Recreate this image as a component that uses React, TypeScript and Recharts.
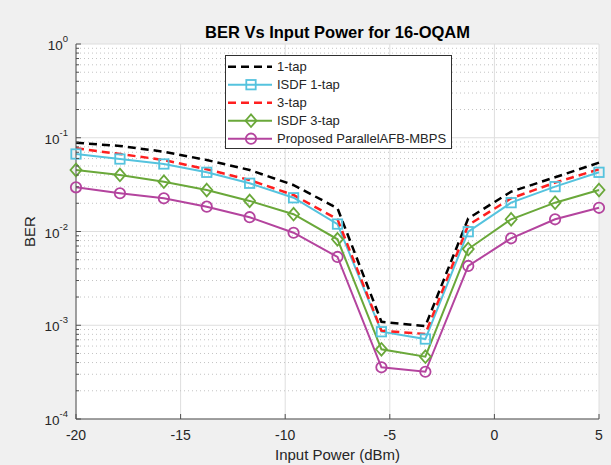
import React from 'react';
import { LineChart, Line, XAxis, YAxis, CartesianGrid, ReferenceLine, Legend, Label } from 'recharts';

// ---- data ----
const xValues = [-20, -17.9, -15.8, -13.75, -11.7, -9.6, -7.5, -5.4, -3.3, -1.25, 0.8, 2.9, 5];
const tap1 = [0.0885, 0.0817, 0.071, 0.0579, 0.0453, 0.0313, 0.0177, 0.00109, 0.00098, 0.0138, 0.0266, 0.0379, 0.0542];
const isdf1 = [0.0671, 0.0593, 0.0525, 0.0428, 0.0327, 0.0229, 0.012, 0.000853, 0.000713, 0.00995, 0.0203, 0.0301, 0.0428];
const tap3 = [0.0772, 0.0671, 0.0579, 0.0461, 0.0354, 0.0245, 0.0135, 0.000875, 0.000807, 0.0117, 0.0226, 0.0332, 0.0461];
const isdf3 = [0.0453, 0.0401, 0.034, 0.0277, 0.0212, 0.0153, 0.00826, 0.000554, 0.000462, 0.0065, 0.0135, 0.0203, 0.0277];
const proposed = [0.0296, 0.0256, 0.0226, 0.0184, 0.0142, 0.0097, 0.00535, 0.000356, 0.000319, 0.00429, 0.00846, 0.0135, 0.0179];

const xTicks = [-20, -15, -10, -5, 0, 5];
const yMajorTicks = [1e-4, 1e-3, 1e-2, 1e-1, 1];
const yMinorTicks: number[] = [];
for (let e = -4; e < 0; e++) {
  for (let m = 2; m <= 9; m++) yMinorTicks.push(m * Math.pow(10, e));
}
const yAllTicks = [...yMajorTicks, ...yMinorTicks].sort((a, b) => a - b);

const titleText = 'BER Vs Input Power for 16-OQAM';
const xLabelText = 'Input Power (dBm)';
const yLabelText = 'BER';

const seriesDefs = [
  { key: 'tap1', name: '1-tap', values: tap1, color: '#000000', dash: '8 5', marker: 'none', width: 2.5 },
  { key: 'isdf1', name: 'ISDF 1-tap', values: isdf1, color: '#55c3de', dash: undefined, marker: 'square', width: 2 },
  { key: 'tap3', name: '3-tap', values: tap3, color: '#ff1f1f', dash: '8 5', marker: 'none', width: 2.5 },
  { key: 'isdf3', name: 'ISDF 3-tap', values: isdf3, color: '#6aa83a', dash: undefined, marker: 'diamond', width: 2 },
  { key: 'proposed', name: 'Proposed ParallelAFB-MBPS', values: proposed, color: '#b4449e', dash: undefined, marker: 'circle', width: 2 },
];

const data = xValues.map((x, i) => {
  const row: Record<string, number> = { x };
  seriesDefs.forEach((s) => { row[s.key] = s.values[i]; });
  return row;
});

const FONT = '"Liberation Sans", Arial, Helvetica, sans-serif';
const AXIS = '#505050';
const TEXT = '#262626';

function Marker({ type, cx, cy, color }: { type: string; cx: number; cy: number; color: string }) {
  if (type === 'square') {
    return <rect x={cx - 4.7} y={cy - 4.7} width={9.4} height={9.4} fill="none" stroke={color} strokeWidth={1.8} />;
  }
  if (type === 'diamond') {
    return <polygon points={`${cx},${cy - 6.3} ${cx + 5.5},${cy} ${cx},${cy + 6.3} ${cx - 5.5},${cy}`} fill="none" stroke={color} strokeWidth={1.8} />;
  }
  if (type === 'circle') {
    return <circle cx={cx} cy={cy} r={5.2} fill="none" stroke={color} strokeWidth={1.8} />;
  }
  return null;
}

const isMajor = (v: number) => Math.abs(Math.log10(v) - Math.round(Math.log10(v))) < 1e-6;

function YTickLeft(props: any) {
  const { x, y, payload } = props;
  const v = payload.value as number;
  const axisX = x + 8;
  const major = isMajor(v);
  const exp = Math.round(Math.log10(v));
  return (
    <g>
      <line x1={axisX} x2={axisX + (major ? 5 : 3)} y1={y} y2={y} stroke={AXIS} strokeWidth={1} />
      {major && (
        <text x={x} y={y + 6} textAnchor="end" fill={TEXT} fontFamily={FONT} fontSize={13.5}>
          <tspan>10</tspan>
          <tspan dy={-8} fontSize={9.5}>{String(exp)}</tspan>
        </text>
      )}
    </g>
  );
}

function YTickRight(props: any) {
  const { x, y, payload } = props;
  const major = isMajor(payload.value);
  return <line x1={x} x2={x - (major ? 5 : 3)} y1={y} y2={y} stroke={AXIS} strokeWidth={1} />;
}

function XTickBottom(props: any) {
  const { x, y, payload } = props;
  return (
    <g>
      <line x1={x} x2={x} y1={y} y2={y - 5} stroke={AXIS} strokeWidth={1} />
      <text x={x} y={y + 21} textAnchor="middle" fill={TEXT} fontFamily={FONT} fontSize={14}>
        {String(payload.value)}
      </text>
    </g>
  );
}

function XTickTop(props: any) {
  const { x, y } = props;
  return <line x1={x} x2={x} y1={y} y2={y + 5} stroke={AXIS} strokeWidth={1} />;
}

function LegendBox() {
  const w = 227;
  const h = 94;
  return (
    <svg width={w} height={h} style={{ display: 'block' }}>
      <rect x={0.5} y={0.5} width={w - 1} height={h - 1} fill="#ffffff" stroke="#303030" strokeWidth={1} />
      {seriesDefs.map((s, i) => {
        const cy = 11.7 + 18 * i;
        return (
          <g key={s.key}>
            <line x1={3} x2={47} y1={cy} y2={cy} stroke={s.color} strokeWidth={s.width} strokeDasharray={s.dash} />
            <Marker type={s.marker} cx={26} cy={cy} color={s.color} />
            <text x={52} y={cy + 4.7} fill={TEXT} fontFamily={FONT} fontSize={13}>{s.name}</text>
          </g>
        );
      })}
    </svg>
  );
}

export default function App() {
  return (
    <div style={{ position: 'absolute', left: 0, top: 0, width: 611, height: 465, background: '#f0f0f0' }}>
      <LineChart width={611} height={465} data={data} margin={{ top: 44, right: 12, bottom: 0, left: 0 }}>
        <CartesianGrid xAxisId="bottom" yAxisId="left" horizontal={false} vertical={true} stroke="#dedede" fill="#ffffff" />
        {yMinorTicks.map((v) => (
          <ReferenceLine key={`mn${v}`} xAxisId="bottom" yAxisId="left" y={v} stroke="#c4c4c4" strokeDasharray="1 3" strokeWidth={1} />
        ))}
        {yMajorTicks.map((v) => (
          <ReferenceLine key={`mj${v}`} xAxisId="bottom" yAxisId="left" y={v} stroke="#dedede" strokeWidth={1} />
        ))}
        <XAxis
          xAxisId="bottom"
          dataKey="x"
          type="number"
          domain={[-20, 5]}
          ticks={xTicks}
          interval={0}
          height={46}
          tickSize={0}
          tickMargin={0}
          axisLine={{ stroke: AXIS }}
          tick={<XTickBottom />}
        >
          <Label
            content={(p: any) => {
              const vb = p.viewBox;
              return (
                <text x={vb.x + vb.width / 2} y={vb.y + 41} textAnchor="middle" fill={TEXT} fontFamily={FONT} fontSize={15}>
                  {xLabelText}
                </text>
              );
            }}
          />
        </XAxis>
        <XAxis
          xAxisId="top"
          orientation="top"
          dataKey="x"
          type="number"
          domain={[-20, 5]}
          ticks={xTicks}
          interval={0}
          height={0}
          tickSize={0}
          tickMargin={0}
          axisLine={{ stroke: AXIS }}
          tick={<XTickTop />}
        />
        <YAxis
          yAxisId="left"
          type="number"
          scale="log"
          domain={[1e-4, 1]}
          allowDataOverflow
          ticks={yAllTicks}
          interval={0}
          width={76}
          tickSize={0}
          tickMargin={8}
          axisLine={{ stroke: AXIS }}
          tick={<YTickLeft />}
        >
          <Label
            content={(p: any) => {
              const vb = p.viewBox;
              const cx = vb.x + 29;
              const cy = vb.y + vb.height / 2;
              return (
                <text x={cx} y={cy} transform={`rotate(-90 ${cx} ${cy})`} textAnchor="middle" dominantBaseline="central" fill={TEXT} fontFamily={FONT} fontSize={15}>
                  {yLabelText}
                </text>
              );
            }}
          />
        </YAxis>
        <YAxis
          yAxisId="right"
          orientation="right"
          type="number"
          scale="log"
          domain={[1e-4, 1]}
          allowDataOverflow
          ticks={yAllTicks}
          interval={0}
          width={0}
          tickSize={0}
          tickMargin={0}
          axisLine={{ stroke: AXIS }}
          tick={<YTickRight />}
        />
        {seriesDefs.map((s) => (
          <Line
            key={s.key}
            xAxisId="bottom"
            yAxisId="left"
            dataKey={s.key}
            name={s.name}
            type="linear"
            stroke={s.color}
            strokeWidth={s.width}
            strokeDasharray={s.dash}
            isAnimationActive={false}
            dot={s.marker === 'none' ? false : (dp: any) => (
              <Marker key={`${s.key}-${dp.index}`} type={s.marker} cx={dp.cx} cy={dp.cy} color={s.color} />
            )}
            activeDot={false}
          />
        ))}
        <Legend
          verticalAlign="middle"
          layout="horizontal"
          align="center"
          content={<LegendBox />}
          wrapperStyle={{ position: 'absolute', left: 225, top: 55, width: 227, height: 94, margin: 0, padding: 0 }}
        />
      </LineChart>
      <svg width={611} height={44} style={{ position: 'absolute', left: 0, top: 0, pointerEvents: 'none' }}>
        <text x={337.5} y={37.5} textAnchor="middle" fill="#000" fontFamily={FONT} fontSize={16.5} fontWeight="bold">
          {titleText}
        </text>
      </svg>
    </div>
  );
}
